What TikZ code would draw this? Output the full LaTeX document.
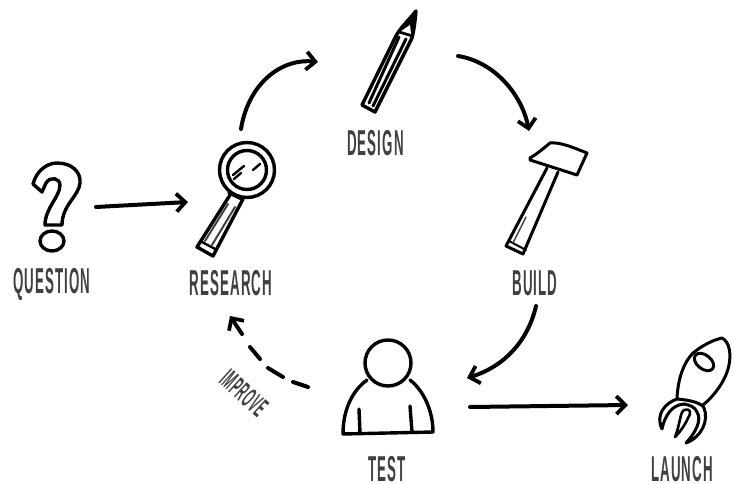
\documentclass[tikz,border=0pt]{standalone}
\usepackage{fontspec}
\usetikzlibrary{arrows.meta,shapes.geometric}
\newfontfamily\handfont[FakeStretch=0.37,LetterSpace=3]{Liberation Sans Bold}
\tikzset{
  lbl/.style={font=\handfont\fontsize{36}{36}\selectfont, text=black!75, inner sep=0pt, anchor=center},
  icon/.style={line width=3.4pt, draw=black, line join=round, line cap=round},
  thin icon/.style={line width=1.5pt, draw=black!75, line cap=round},
  flow/.style={line width=4pt, draw=black, line cap=round, -{Straight Barb[length=9pt,width=18pt,line width=3.8pt]}},
  dashpart/.style={line width=4pt, draw=black, line cap=round},
}
\begin{document}
\begin{tikzpicture}[x=1pt,y=-1pt]
\fill[white] (0,0) rectangle (734,484);
\useasboundingbox (0,0) rectangle (734,484);

% labels
\node[lbl] (question) at (52,284) {QUESTION};
\node[lbl] (research) at (231,283) {RESEARCH};
\node[lbl] (design) at (375.5,143) {DESIGN};
\node[lbl] (build) at (535,283) {BUILD};
\node[lbl] (test) at (387,469) {TEST};
\node[lbl] (launch) at (682,469) {LAUNCH};
\node[lbl, font=\handfont\fontsize{28}{28}\selectfont, rotate=-42] (improve) at (244,393) {IMPROVE};

% question mark
\draw[icon] (42,192) -- (33,184) .. controls (36,172) and (46,163) .. (57,163)
  .. controls (72,163) and (81,172) .. (80,183)
  .. controls (79,196) and (62,205) .. (62,225) -- (45,225)
  .. controls (45,208) and (60,197) .. (60,185)
  .. controls (60,178) and (50,176) .. (46,183) -- cycle;
\draw[icon] (52,241) circle [x radius=12, y radius=10];

% magnifier
\draw[icon] (247,170) circle [radius=27.5];
\draw[icon] (247,170) circle [radius=19.5];
\draw[icon] (230,195) -- (197,247) -- (213,256) -- (243,199);
\draw[icon] (229,193) -- (242,199);
\draw[icon, line width=2.4pt] (202,242) -- (217,250);
\draw[thin icon, line width=2pt] (228,204) -- (205,241);
\draw[thin icon, line width=2pt] (235,207) -- (212,245);
\draw[icon, line width=2.4pt] (233,175) -- (244,166);
\draw[icon, line width=2.4pt] (234,179) -- (241,173);
\draw[icon, line width=2.4pt] (253,170) -- (260,164);

% pencil
\draw[icon] (416,11) .. controls (415,22) and (414,30) .. (412,38)
  -- (375,112) -- (362,105) -- (394,40) .. controls (398,30) and (407,22) .. (416,11) -- cycle;
\fill[black] (416,11) -- (398,33) -- (411,37) -- cycle;
\fill[white] (401,31) -- (410,25) -- (411,34) -- cycle;
\draw[thin icon, draw=black, line width=3pt] (399,37) -- (369,103);
\draw[thin icon, draw=black, line width=3pt] (406,39) -- (373,106);

% hammer
\draw[icon, line width=3pt] (530,158) .. controls (537,154) and (544,148) .. (550,143)
  .. controls (560,142) and (572,147) .. (587,153) -- (577,175) -- (530,160) -- cycle;
\draw[icon, line width=3pt] (547,168) -- (506,246) -- (523,254) -- (558,172);
\draw[icon, line width=2pt] (509,241) -- (526,250);
\draw[thin icon] (526,217) -- (513,243);

% person
\draw[icon] (388,363) circle [radius=23];
\draw[icon] (367,380) .. controls (352,391) and (343,410) .. (343,434)
  -- (433,432) .. controls (433,410) and (423,390) .. (410,380);
\draw[icon] (359,409) -- (360,433);
\draw[icon] (410,406) -- (412,432);

% rocket
\draw[icon, line width=3pt] (677,398) .. controls (678,378) and (684,362) .. (693,353)
  .. controls (703,345) and (713,340) .. (722,338)
  .. controls (730,342) and (731,355) .. (729,365)
  .. controls (726,380) and (715,395) .. (703,405);
\draw[icon, line width=3pt, rotate around={-38:(704,362)}] (704,362) circle [x radius=11, y radius=7];
\draw[icon, line width=3pt] (677,399) .. controls (665,403) and (655,415) .. (662,429)
  .. controls (665,415) and (672,405) .. (684,404);
\draw[icon, line width=3pt] (677,399) .. controls (690,400) and (702,403) .. (704,408)
  .. controls (709,420) and (702,437) .. (686,443)
  .. controls (696,432) and (702,420) .. (697,412)
  .. controls (695,407) and (690,405) .. (684,404);
\draw[icon, line width=2.6pt] (675,437) .. controls (680,425) and (680,412) .. (684,410)
  .. controls (690,408) and (692,412) .. (688,418) .. controls (685,425) and (680,432) .. (675,437) -- cycle;

% connector ends
\coordinate (qOut) at (96,207);
\coordinate (rIn) at (188,202);
\coordinate (rOut) at (241,129);
\coordinate (dIn) at (318,62);
\coordinate (dOut) at (458,56);
\coordinate (bIn) at (529,131);
\coordinate (bOut) at (536,306);
\coordinate (tIn) at (467,378);
\coordinate (tOut) at (470,407);
\coordinate (lIn) at (628,405);
\coordinate (tBack) at (308,387);
\coordinate (dashA) at (293,382);
\coordinate (dashB) at (283,377);
\coordinate (dashC) at (268,368);
\coordinate (dashD) at (260,359);
\coordinate (dashE) at (250,347);
\coordinate (dashF) at (242,334);
\coordinate (rBack) at (230,316);

% connectors
\draw[flow] (qOut) -- (rIn);
\draw[flow] (rOut) .. controls (248,85) and (280,58) .. (dIn);
\draw[flow] (dOut) .. controls (495,62) and (522,95) .. (bIn);
\draw[flow] (bOut) .. controls (527,345) and (500,368) .. (tIn);
\draw[flow] (tOut) -- (lIn);
\draw[dashpart] (tBack) -- (dashA);
\draw[dashpart] (dashB) -- (dashC);
\draw[dashpart] (dashD) -- (dashE);
\draw[flow] (dashF) -- (rBack);
\end{tikzpicture}
\end{document}
